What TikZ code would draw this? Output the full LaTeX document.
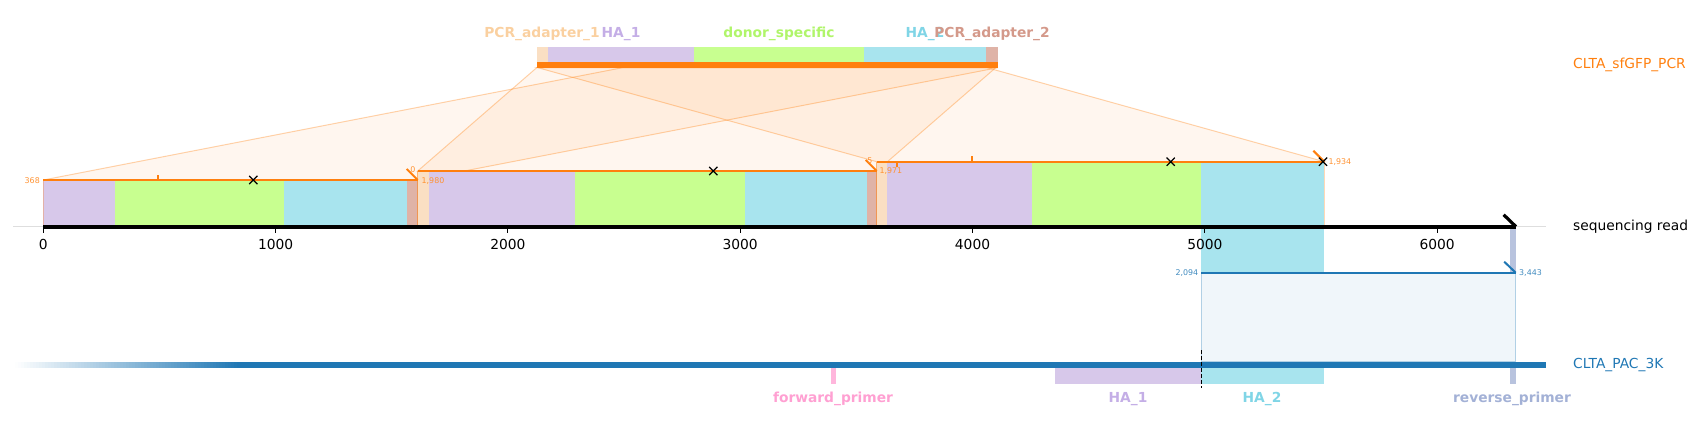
\documentclass[tikz,border=0pt]{standalone}
\usepackage{fontspec}
\setmainfont{DejaVu Sans}
\usetikzlibrary{calc,shapes.misc}
\definecolor{orC}{HTML}{FF7F0E}
\definecolor{blC}{HTML}{1F77B4}
\definecolor{lavB}{HTML}{D7C8EA}
\definecolor{lavL}{HTML}{C4AEE6}
\definecolor{grnB}{HTML}{C8FF90}
\definecolor{grnL}{HTML}{B0F56A}
\definecolor{cyaB}{HTML}{A8E4EE}
\definecolor{cyaL}{HTML}{80D5E6}
\definecolor{peaB}{HTML}{FADFC3}
\definecolor{peaL}{HTML}{FAD0A0}
\definecolor{pnkB}{HTML}{DFB3A7}
\definecolor{pnkL}{HTML}{D4998A}
\definecolor{fwdB}{HTML}{FFB6DC}
\definecolor{fwdL}{HTML}{FFA0D2}
\definecolor{revB}{HTML}{B8C3DE}
\definecolor{revL}{HTML}{A3B1D6}
\begin{document}
\begin{tikzpicture}[x=1pt,y=-1pt,
  txt/.style={inner sep=0pt, font=\fontsize{13.8}{16}\selectfont},
  ftxt/.style={inner sep=0pt, font=\fontsize{13.8}{16}\selectfont\bfseries},
  small/.style={inner sep=0pt, font=\fontsize{7.9}{9}\selectfont},
  orpoly/.style={fill=orC, fill opacity=0.065, draw=orC, draw opacity=0.35, line width=1pt},
  segline/.style={draw=orC, line width=2pt},
  strand/.style={draw=orC, line width=2pt},
  bound/.style={draw=orC, draw opacity=0.55, line width=1pt},
  otick/.style={draw=orC, line width=2pt},
  xm/.style={cross out, draw=black, line width=1.2pt, minimum size=7pt, inner sep=0pt},
]
\useasboundingbox (0,0) rectangle (1699,431);

% ---- coordinates
\coordinate (t0) at (536.7,67.7);
\coordinate (t5) at (537.9,67.7);
\coordinate (t368) at (622.4,67.7);
\coordinate (t1934) at (987.1,67.7);
\coordinate (t1971) at (995.7,67.7);
\coordinate (t1980) at (997.8,67.7);
\coordinate (s1a) at (43.3,180);   \coordinate (s1b) at (417.7,180);
\coordinate (s2a) at (417.7,171);  \coordinate (s2b) at (876.7,171);
\coordinate (s3a) at (876.7,161.7);\coordinate (s3b) at (1324.3,161.7);
\coordinate (b1) at (1201,272.7);  \coordinate (b2) at (1515.7,272.7);
\coordinate (c1) at (1201,361.7);  \coordinate (c2) at (1515.7,361.7);

% ---- mapping polygons
\path[orpoly] (t368) -- (t1980) -- (s1b) -- (s1a) -- cycle;
\path[orpoly] (t0) -- (t1971) -- (s2b) -- (s2a) -- cycle;
\path[orpoly] (t5) -- (t1934) -- (s3b) -- (s3a) -- cycle;
\path[fill=blC, fill opacity=0.065, draw=blC, draw opacity=0.3, line width=1pt] (b1) -- (b2) -- (c2) -- (c1) -- cycle;

% ---- top construct
\fill[peaB] (536.7,47.3) rectangle (548,61.7);
\fill[lavB] (548,47.3) rectangle (694,61.7);
\fill[grnB] (694,47.3) rectangle (864,61.7);
\fill[cyaB] (864,47.3) rectangle (986,61.7);
\fill[pnkB] (986,47.3) rectangle (998,61.7);
\fill[orC] (536.7,61.7) rectangle (998,67.7);

% ---- segment features on read
\fill[lavB] (43.3,180) rectangle (114.8,225);
\fill[grnB] (114.8,180) rectangle (284.3,225);
\fill[cyaB] (284.3,180) rectangle (406.5,225);
\fill[pnkB] (406.5,180) rectangle (417.7,225);
\fill[peaB] (417.7,171) rectangle (429.3,225);
\fill[lavB] (429.3,171) rectangle (575,225);
\fill[grnB] (575,171) rectangle (744.5,225);
\fill[cyaB] (744.5,171) rectangle (866.7,225);
\fill[pnkB] (866.7,171) rectangle (876.7,225);
\fill[peaB] (876.7,161.7) rectangle (886.8,225);
\fill[lavB] (886.8,161.7) rectangle (1032,225);
\fill[grnB] (1032,161.7) rectangle (1201,225);
\fill[cyaB] (1201,161.7) rectangle (1324.3,225);
% projected features of CLTA_PAC_3K
\fill[cyaB] (1201,226) rectangle (1324.3,272.7);
\fill[revB] (1510,226) rectangle (1515.7,272.7);

% segment boundaries
\draw[bound, draw opacity=0.3] (s1a) -- (43.3,228);
\draw[bound] (s2a) -- (417.7,229);
\draw[bound] (s3a) -- (876.7,229);
\draw[bound, draw opacity=0.3] (s3b) -- (1324.3,228);

% ---- axis
\draw[black!13, line width=1pt] (13,226.7) -- (1546,226.7);
\coordinate (ax0) at (43.3,226.7); \coordinate (axE) at (1516,226.7);
\draw[black, line width=3.6pt] (ax0) -- (axE);
\draw[black, line width=3.2pt] ($(axE)+(-12.4,-12)$) -- (axE);
\foreach \k in {0,...,6}{
  \draw[black, line width=1pt] (43.3+232.3*\k,228.5) -- (43.3+232.3*\k,232.5);
  \pgfmathtruncatemacro{\v}{1000*\k}
  \node[txt] (tk\k) at (43.3+232.3*\k,244) {\v};
}

% ---- segment lines
\draw[segline] (s1a) -- (s1b);
\draw[segline] (s2a) -- (s2b);
\draw[segline] (s3a) -- (s3b);
\draw[strand] ($(s1b)+(-11,-11)$) -- (s1b);
\draw[strand] ($(s2b)+(-11,-11)$) -- (s2b);
\draw[strand] ($(s3b)+(-11,-11)$) -- (s3b);
\draw[otick] (157.7,180) -- (157.7,174.5);
\draw[otick] (972.3,161.7) -- (972.3,156);
\draw[otick] (897.3,161.7) -- (897.3,166.5);
\node[xm] (x1) at (253.3,180) {};
\node[xm] (x2) at (713.3,171) {};
\node[xm] (x3) at (1170.7,161.7) {};
\node[xm] (x4) at (1323,161.7) {};

% segment labels
\node[small, text=orC!85, anchor=east] (l368) at (40,180.5) {368};
\node[small, text=orC!85, anchor=west] (l1980) at (421.5,180.7) {1,980};
\node[small, text=orC!85, anchor=east] (l0) at (415.5,170) {0};
\node[small, text=orC!85, anchor=west] (l1971) at (879.3,170.7) {1,971};
\node[small, text=orC!85, anchor=east] (l5) at (872.7,161) {5};
\node[small, text=orC!85, anchor=west] (l1934) at (1328.3,161.7) {1,934};

% ---- alignment to CLTA_PAC_3K
\draw[blC, line width=2pt] (b1) -- (b2);
\draw[blC, line width=2pt] ($(b2)+(-11.5,-11)$) -- (b2);
\node[small, text=blC!85, anchor=east] (l2094) at (1198.3,272.7) {2,094};
\node[small, text=blC!85, anchor=west] (l3443) at (1519,272.7) {3,443};

% ---- bottom sequence (fading start)
\foreach \i in {0,...,74}{
  \pgfmathsetmacro{\op}{(\i+0.5)/75}
  \fill[blC, fill opacity=\op] (15+3*\i,361.7) rectangle (15+3*\i+3,367.7);
}
\fill[blC] (240,361.7) rectangle (1546,367.7);
\fill[fwdB] (831,367.7) rectangle (835.7,383.7);
\fill[lavB] (1055,367.7) rectangle (1201,383.7);
\fill[cyaB] (1201,367.7) rectangle (1324.3,383.7);
\fill[revB] (1510,367.7) rectangle (1515.7,383.7);
\draw[black, line width=1pt, dash pattern=on 4pt off 2pt] (1201,350) -- (1201,388.3);

% ---- feature labels
\node[ftxt, text=peaL] (lpa1) at (542,34.3) {PCR\_adapter\_1};
\node[ftxt, text=lavL] (lha1) at (621,34.3) {HA\_1};
\node[ftxt, text=grnL] (lds) at (779,34.3) {donor\_specific};
\node[ftxt, text=cyaL] (lha2) at (925,34.3) {HA\_2};
\node[ftxt, text=pnkL] (lpa2) at (992,34.3) {PCR\_adapter\_2};

\node[ftxt, text=fwdL] (lfwd) at (833,398.7) {forward\_primer};
\node[ftxt, text=lavL] (lbha1) at (1128,398.7) {HA\_1};
\node[ftxt, text=cyaL] (lbha2) at (1262,398.7) {HA\_2};
\node[ftxt, text=revL] (lrev) at (1512,398.7) {reverse\_primer};

% ---- track names
\node[txt, text=orC, anchor=west] (nPCR) at (1573,65) {CLTA\_sfGFP\_PCR};
\node[txt, text=black, anchor=west] (nread) at (1573,226.7) {sequencing read};
\node[txt, text=blC, anchor=west] (nPAC) at (1573,364.7) {CLTA\_PAC\_3K};
\end{tikzpicture}
\end{document}
